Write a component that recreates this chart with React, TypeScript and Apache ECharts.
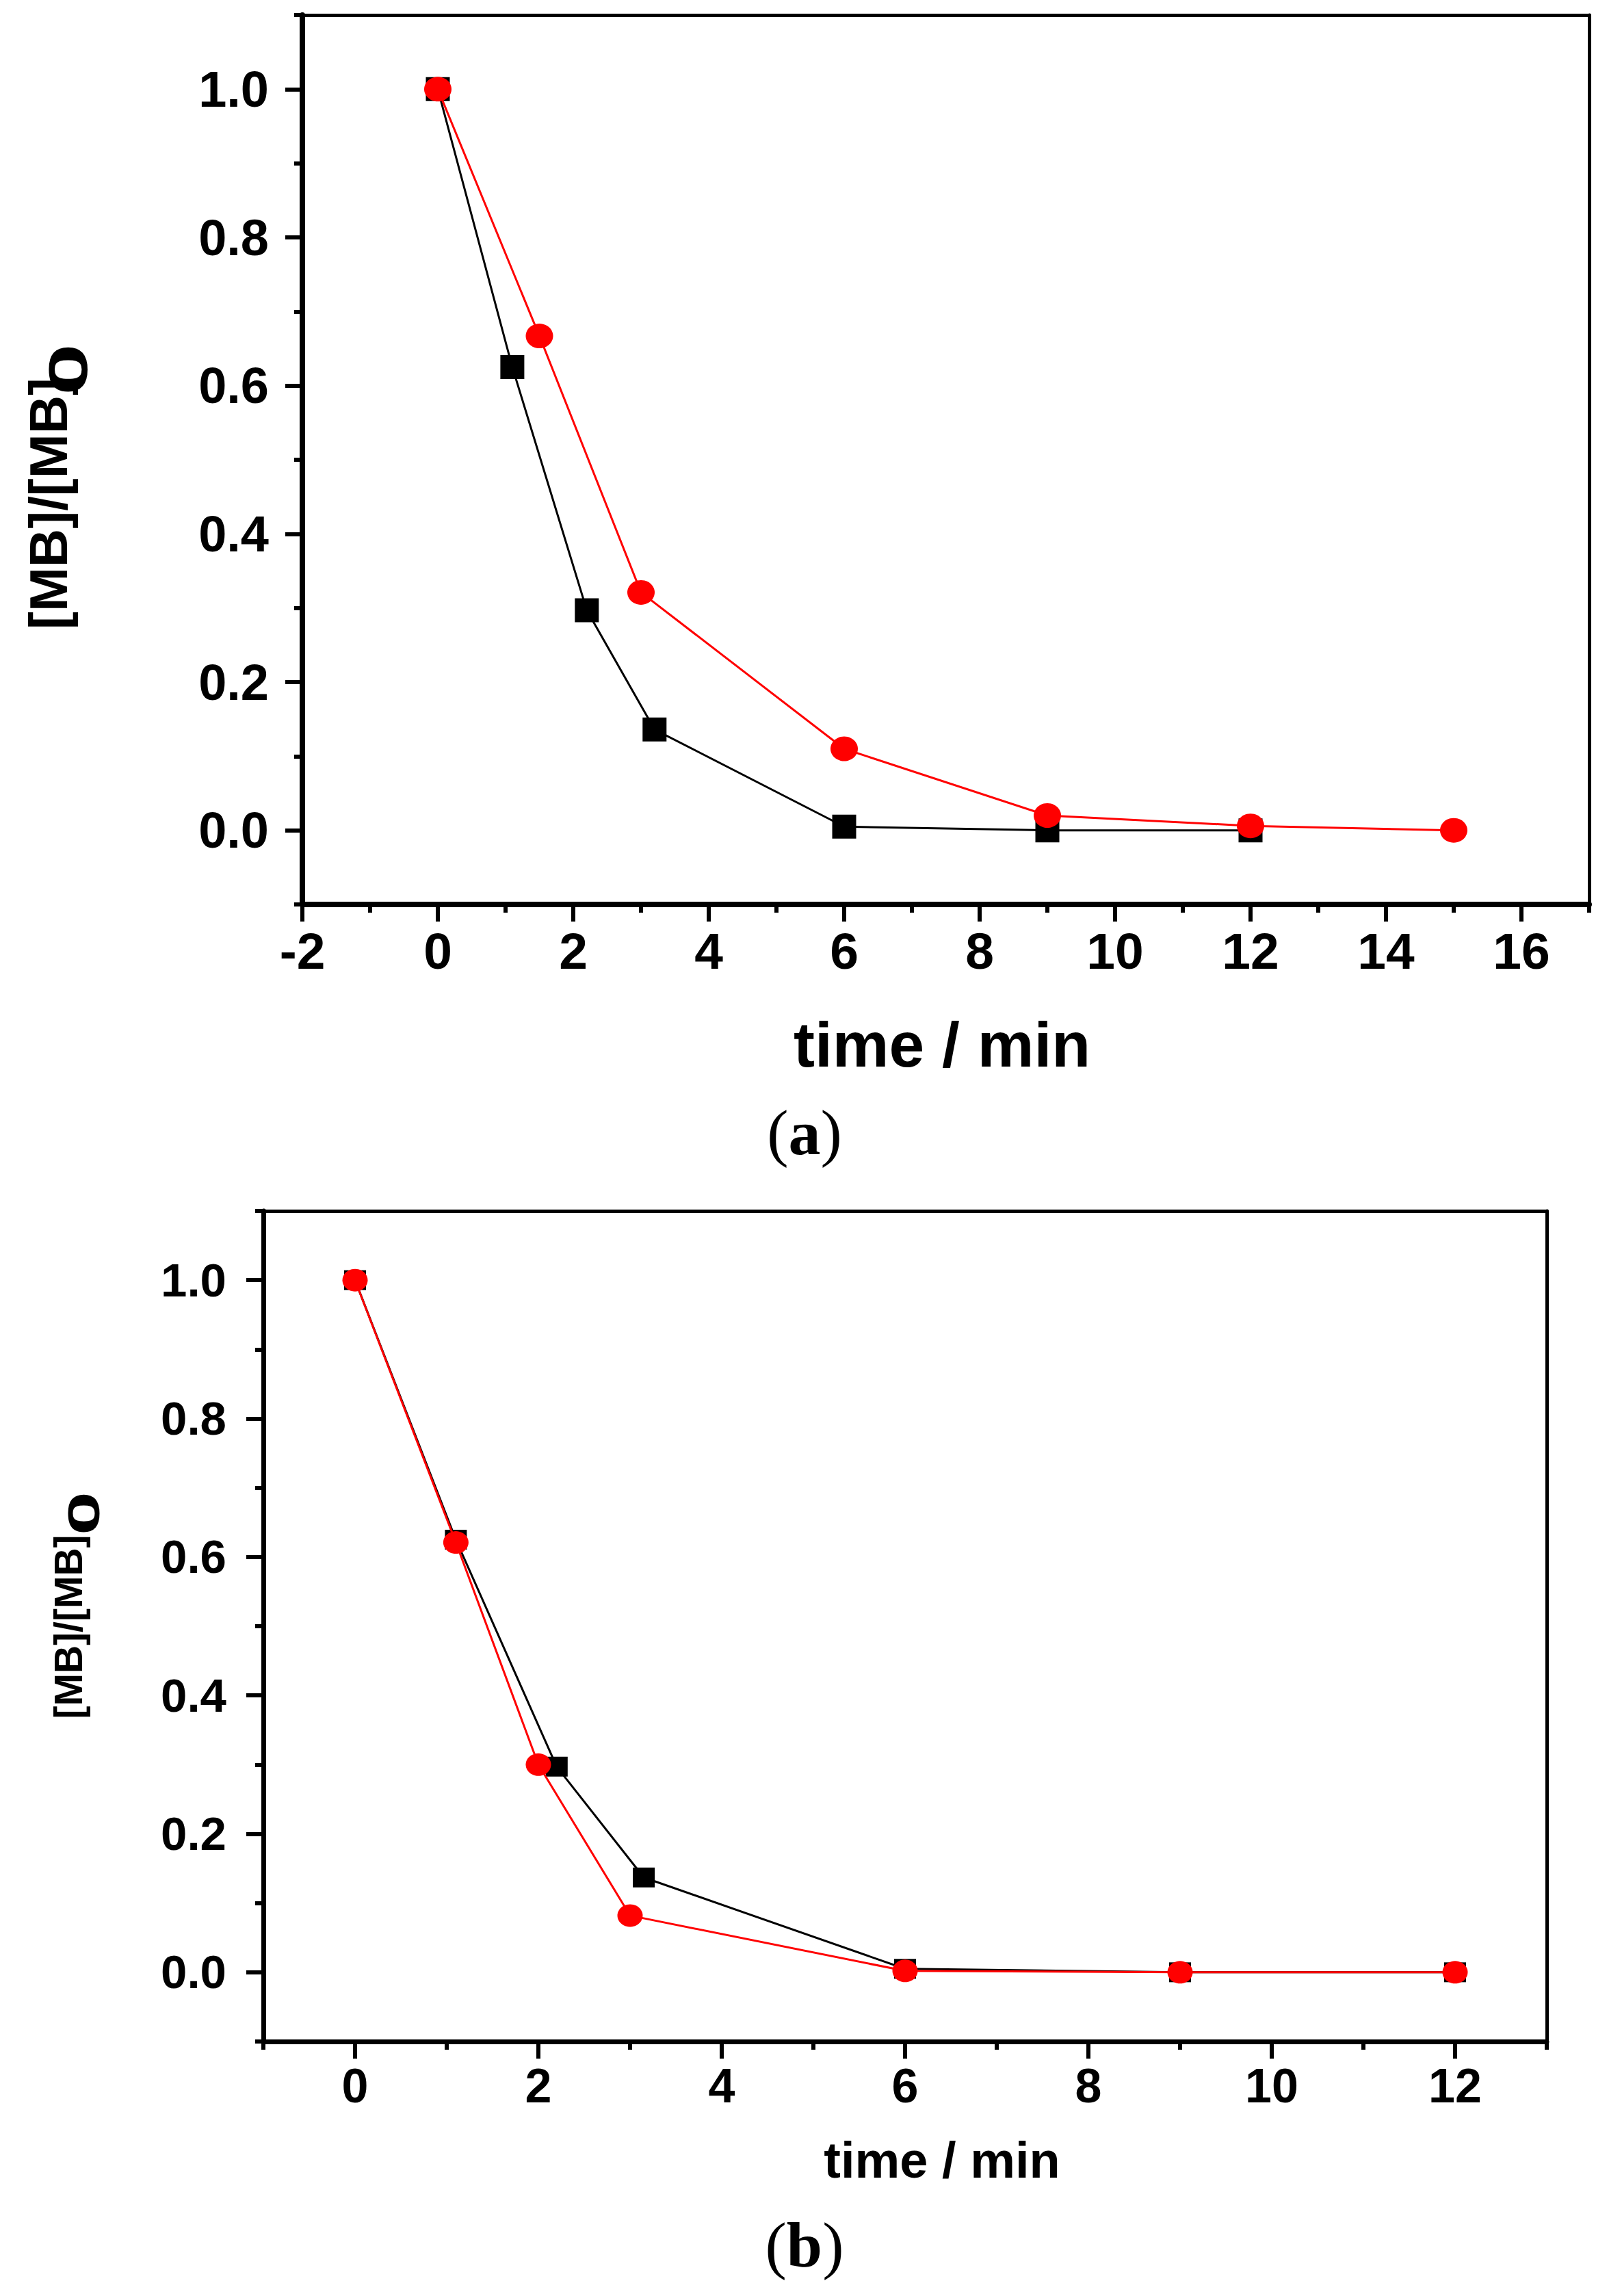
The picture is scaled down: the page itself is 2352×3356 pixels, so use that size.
import React, { useEffect, useRef } from 'react';
import * as echarts from 'echarts';

// ---- Data: panel (a) ----
const timeABlack = [0, 1.1, 2.2, 3.2, 6, 9, 12];
const valueABlack = [1.0, 0.625, 0.297, 0.136, 0.005, 0.0, 0.0];
const timeARed = [0, 1.5, 3.0, 6, 9, 12, 15];
const valueARed = [1.0, 0.667, 0.321, 0.11, 0.02, 0.006, 0.0];

// ---- Data: panel (b) ----
const timeBBlack = [0, 1.1, 2.2, 3.15, 6, 9, 12];
const valueBBlack = [1.0, 0.625, 0.297, 0.137, 0.005, 0.0, 0.0];
const timeBRed = [0, 1.1, 2.0, 3.0, 6, 9, 12];
const valueBRed = [1.0, 0.621, 0.3, 0.082, 0.002, 0.0, 0.0];

// ---- Ticks ----
const yMajorTicks = [0, 0.2, 0.4, 0.6, 0.8, 1.0];
const yMinorTicks = [-0.1, 0.1, 0.3, 0.5, 0.7, 0.9, 1.1];
const xAMajorTicks = [-2, 0, 2, 4, 6, 8, 10, 12, 14, 16];
const xAMinorTicks = [-1, 1, 3, 5, 7, 9, 11, 13, 15, 17];
const xBMajorTicks = [0, 2, 4, 6, 8, 10, 12];
const xBMinorTicks = [-1, 1, 3, 5, 7, 9, 11, 13];

const yTitle = '[MB]/[MB]';
const ySub = '0';
const xTitle = 'time / min';

const zip = (xs: number[], ys: number[]) => xs.map((x, i) => [x, ys[i]]);

const SANS = '"Liberation Sans", Arial, sans-serif';
const SERIF = '"Liberation Serif", "Times New Roman", serif';

function axisSet(
  gridIndex: number,
  dim: 'x' | 'y',
  min: number,
  max: number,
  major: number[],
  minor: number[],
  fontSize: number,
  margin: number,
  lineW: number,
  boxW: number,
  fmt: (v: number) => string
) {
  const mainPos = dim === 'x' ? 'bottom' : 'left';
  const oppPos = dim === 'x' ? 'top' : 'right';
  const base = { type: 'value', gridIndex, min, max, splitLine: { show: false } };
  return [
    {
      ...base,
      position: mainPos,
      axisLine: { show: true, onZero: false, lineStyle: { color: '#000', width: lineW } },
      axisTick: { show: true, inside: false, length: 25, customValues: major, lineStyle: { color: '#000', width: 6 } },
      axisLabel: {
        show: true,
        customValues: major,
        margin,
        color: '#000',
        fontSize,
        fontWeight: 'bold',
        fontFamily: SANS,
        formatter: (v: number) => fmt(v),
      },
    },
    {
      ...base,
      position: mainPos,
      axisLine: { show: false, onZero: false },
      axisTick: { show: true, inside: false, length: 12, customValues: minor, lineStyle: { color: '#000', width: 6 } },
      axisLabel: { show: false },
    },
    {
      ...base,
      position: oppPos,
      axisLine: { show: true, onZero: false, lineStyle: { color: '#000', width: boxW } },
      axisTick: { show: false },
      axisLabel: { show: false },
    },
  ];
}

const fmtX = (v: number) => String(Math.round(v));
const fmtY = (v: number) => v.toFixed(1);

export default function App() {
  const ref = useRef<HTMLDivElement>(null);

  useEffect(() => {
    document.body.style.margin = '0';
    if (!ref.current) return;
    const chart = echarts.init(ref.current, undefined, { renderer: 'svg' });

    const xAxes = [
      ...axisSet(0, 'x', -2, 17, xAMajorTicks, xAMinorTicks, 75, 30, 8, 5, fmtX),
      ...axisSet(1, 'x', -1, 13, xBMajorTicks, xBMinorTicks, 70, 30, 7, 5, fmtX),
    ];
    const yAxes = [
      ...axisSet(0, 'y', -0.1, 1.1, yMajorTicks, yMinorTicks, 74, 49, 8, 5, fmtY),
      ...axisSet(1, 'y', -0.1, 1.1, yMajorTicks, yMinorTicks, 69, 54, 7, 5, fmtY),
    ];

    const mk = (
      name: string,
      data: number[][],
      xi: number,
      yi: number,
      color: string,
      symbol: string,
      size: number[],
      z: number
    ) => ({
      name,
      type: 'line',
      xAxisIndex: xi,
      yAxisIndex: yi,
      data,
      symbol,
      symbolSize: size,
      showSymbol: true,
      clip: false,
      z,
      lineStyle: { color, width: 3 },
      itemStyle: { color },
    });

    const option: any = {
      animation: false,
      backgroundColor: '#fff',
      grid: [
        { left: 442, top: 22, width: 1881, height: 1300, outerBoundsMode: 'none', containLabel: false },
        { left: 385, top: 1770, width: 1876, height: 1214, outerBoundsMode: 'none', containLabel: false },
      ],
      xAxis: xAxes,
      yAxis: yAxes,
      series: [
        mk('a-black', zip(timeABlack, valueABlack), 0, 0, '#000000', 'rect', [35, 35], 3),
        mk('a-red', zip(timeARed, valueARed), 0, 0, '#ff0000', 'circle', [40, 36], 4),
        mk('b-black', zip(timeBBlack, valueBBlack), 3, 3, '#000000', 'rect', [32, 29], 3),
        mk('b-red', zip(timeBRed, valueBRed), 3, 3, '#ff0000', 'circle', [37, 33], 4),
      ],
      graphic: [
        // y titles panel (a)
        {
          type: 'text', x: 71, y: 736, rotation: Math.PI / 2,
          style: { text: yTitle, fontSize: 78, fontWeight: 'bold', fontFamily: SANS, fill: '#000', textAlign: 'center', textVerticalAlign: 'middle' },
        },
        {
          type: 'text', x: 99, y: 540, rotation: Math.PI / 2, scaleX: 1.7,
          style: { text: ySub, fontSize: 80, fontWeight: 'bold', fontFamily: SANS, fill: '#000', textAlign: 'center', textVerticalAlign: 'middle' },
        },
        // x title panel (a)
        {
          type: 'text', x: 1377, y: 1527,
          style: { text: xTitle, fontSize: 93, fontWeight: 'bold', fontFamily: SANS, fill: '#000', textAlign: 'center', textVerticalAlign: 'middle' },
        },
        // caption (a)
        {
          type: 'text', x: 1176, y: 1655,
          style: {
            text: '{p|(}{b|a}{p|)}', textAlign: 'center', textVerticalAlign: 'middle',
            rich: {
              p: { fontSize: 94, fontFamily: SERIF, fill: '#000', color: '#000' },
              b: { fontSize: 94, fontFamily: SERIF, fontWeight: 'bold', fill: '#000', color: '#000' },
            },
          },
        },
        // y titles panel (b)
        {
          type: 'text', x: 100, y: 2378, rotation: Math.PI / 2,
          style: { text: yTitle, fontSize: 57, fontWeight: 'bold', fontFamily: SANS, fill: '#000', textAlign: 'center', textVerticalAlign: 'middle' },
        },
        {
          type: 'text', x: 123, y: 2212, rotation: Math.PI / 2, scaleX: 1.8,
          style: { text: ySub, fontSize: 64, fontWeight: 'bold', fontFamily: SANS, fill: '#000', textAlign: 'center', textVerticalAlign: 'middle' },
        },
        // x title panel (b)
        {
          type: 'text', x: 1377, y: 3157,
          style: { text: xTitle, fontSize: 74, fontWeight: 'bold', fontFamily: SANS, fill: '#000', textAlign: 'center', textVerticalAlign: 'middle' },
        },
        // caption (b)
        {
          type: 'text', x: 1176, y: 3281,
          style: {
            text: '{p|(}{b|b}{p|)}', textAlign: 'center', textVerticalAlign: 'middle',
            rich: {
              p: { fontSize: 94, fontFamily: SERIF, fill: '#000', color: '#000' },
              b: { fontSize: 94, fontFamily: SERIF, fontWeight: 'bold', fill: '#000', color: '#000' },
            },
          },
        },
      ],
    };

    chart.setOption(option);
    return () => chart.dispose();
  }, []);

  return (
    <div
      ref={ref}
      style={{ position: 'absolute', left: 0, top: 0, width: 2352, height: 3356, background: '#fff' }}
    />
  );
}
